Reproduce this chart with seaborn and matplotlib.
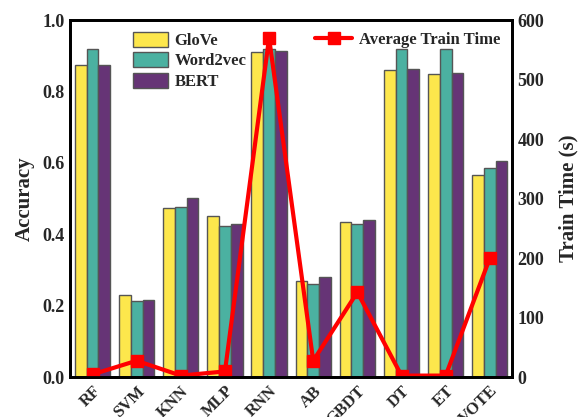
import pandas as pd
import numpy as np
import matplotlib
matplotlib.use('Agg')
import matplotlib.pyplot as plt
import seaborn as sns

sns.set_style('white')
plt.rcParams['font.family'] = ['Liberation Serif', 'DejaVu Serif']
plt.rcParams['font.weight'] = 'bold'

# du lieu doc tu hinh
models = ['RF', 'SVM', 'KNN', 'MLP', 'RNN', 'AB', 'GBDT', 'DT', 'ET', 'VOTE']
glove = [0.873, 0.230, 0.475, 0.452, 0.910, 0.270, 0.435, 0.860, 0.850, 0.567]
word2vec = [0.920, 0.213, 0.476, 0.425, 0.920, 0.260, 0.428, 0.920, 0.918, 0.587]
bert = [0.875, 0.217, 0.503, 0.428, 0.912, 0.280, 0.440, 0.862, 0.852, 0.605]
train_time = [5, 28, 3, 10, 570, 28, 143, 3, 3, 200]

df = pd.DataFrame({'Model': models, 'GloVe': glove, 'Word2vec': word2vec, 'BERT': bert})
long_df = df.melt(id_vars='Model', var_name='Embedding', value_name='Accuracy')

colors = ['#fde74c', '#4bb1a1', '#663476']

fig, ax = plt.subplots(figsize=(5.87, 4.17), dpi=100)
sns.barplot(data=long_df, x='Model', y='Accuracy', hue='Embedding',
            palette=colors, width=0.8, edgecolor='#555555', linewidth=1.0,
            saturation=1, ax=ax)
ax.set_ylim(0, 1.0)
ax.set_xlim(-0.5, len(models) - 0.5)
ax.set_xlabel('')
ax.set_ylabel('Accuracy', fontsize=15, fontweight='bold', labelpad=6)
ax.set_yticks([0.0, 0.2, 0.4, 0.6, 0.8, 1.0])
ax.set_yticklabels(['0.0', '0.2', '0.4', '0.6', '0.8', '1.0'], fontsize=13, fontweight='bold')
ax.set_xticks(range(len(models)))
ax.set_xticklabels(models, rotation=45, fontsize=12, fontweight='bold')
for lbl in ax.get_xticklabels():
    lbl.set_ha('right')
    lbl.set_rotation_mode('anchor')
ax.legend(loc='upper left', bbox_to_anchor=(0.115, 1.0), frameon=False,
          prop={'weight': 'bold', 'size': 12}, handlelength=2.1, handleheight=1.0,
          labelspacing=0.2, handletextpad=0.4, borderaxespad=0.3)

ax2 = ax.twinx()
ax2.plot(range(len(models)), train_time, color='red', lw=3, marker='s', ms=8,
         label='Average Train Time')
ax2.set_ylim(0, 600)
ax2.set_yticks([0, 100, 200, 300, 400, 500, 600])
ax2.set_yticklabels(['0', '100', '200', '300', '400', '500', '600'], fontsize=13, fontweight='bold')
ax2.set_ylabel('Train Time (s)', fontsize=15, fontweight='bold', labelpad=10)
ax2.legend(loc='upper right', frameon=False, prop={'weight': 'bold', 'size': 12},
           handlelength=2.2, handletextpad=0.4, borderaxespad=0.3)

for a in (ax, ax2):
    for s in a.spines.values():
        s.set_linewidth(2)
        s.set_color('black')
    a.tick_params(length=0, pad=4)

plt.subplots_adjust(left=0.12, right=0.872, top=0.952, bottom=0.095)
plt.savefig('out.png', dpi=100)
